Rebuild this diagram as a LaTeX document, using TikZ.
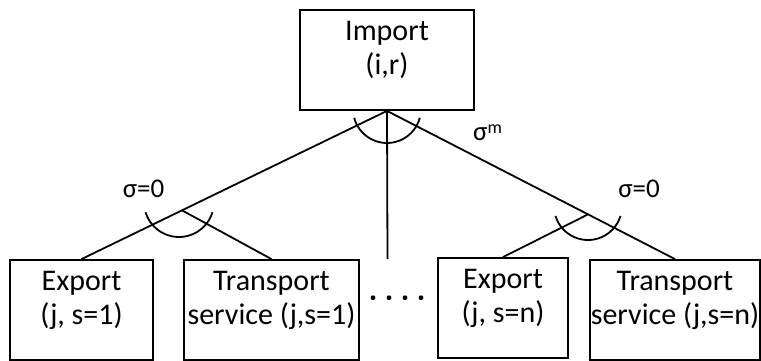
\documentclass[tikz,border=0pt]{standalone}
\usepackage{fontspec}
\setmainfont{Carlito}
\usetikzlibrary{calc}
\newcommand{\twolines}[2]{\begin{tabular}[b]{@{}c@{}}#1\\#2\end{tabular}}
\begin{document}
\begin{tikzpicture}[x=1pt,y=1pt,
  box/.style={draw, line width=1.8pt, inner sep=0pt, minimum height=100pt,
    font=\fontsize{30}{34.5}\selectfont, text height=39pt, text depth=10pt},
  conn/.style={line width=1.8pt},
  lab/.style={inner sep=0pt, font=\fontsize{27}{30}\selectfont}]
\useasboundingbox (0,0) rectangle (761,-361);
% boxes
\node[box, minimum width=174pt, text height=39pt] (imp) at (387,-60) {\twolines{Import}{(i,r)}};
\node[box, minimum width=143pt] (e1) at (81.5,-310) {\twolines{Export}{(j, s=1)}};
\node[box, minimum width=175pt] (t1) at (271.5,-310) {\twolines{Transport}{service (j,s=1)}};
\node[box, minimum width=130pt] (en) at (503,-308) {\twolines{Export}{(j, s=n)}};
\node[box, minimum width=170pt] (tn) at (675,-310) {\twolines{Transport}{service (j,s=n)}};
% connectors
\coordinate (mid) at (387.5,-259);
\draw[conn] (imp.south) -- (e1.north);
\draw[conn] (imp.south) -- (tn.north);
\draw[conn] (imp.south) -- (mid);
\coordinate (la) at ($(imp.south)!0.671!(e1.north)$);
\coordinate (ra) at ($(imp.south)!0.698!(tn.north)$);
\draw[conn] (la) -- (t1.north);
\draw[conn] (ra) -- (en.north);
% arcs
\draw[conn] ([shift={(195:34)}]387,-109) arc[start angle=195, end angle=345, radius=34];
\draw[conn] ([shift={(197:35)}]179,-202) arc[start angle=197, end angle=343, radius=35];
\draw[conn] ([shift={(197:34)}]588,-206) arc[start angle=197, end angle=343, radius=34];
% labels
\node[lab, anchor=base] (s1) at (143.5,-197) {σ=0};
\node[lab, anchor=base] (s2) at (639,-197) {σ=0};
\node[lab, anchor=base west] (sm) at (473,-140) {σ\raisebox{7pt}{\fontsize{18}{18}\selectfont m}};
% dots
\foreach \xx in {373,389,405,421} \fill (\xx,-297.7) circle (2.4);
\end{tikzpicture}
\end{document}
